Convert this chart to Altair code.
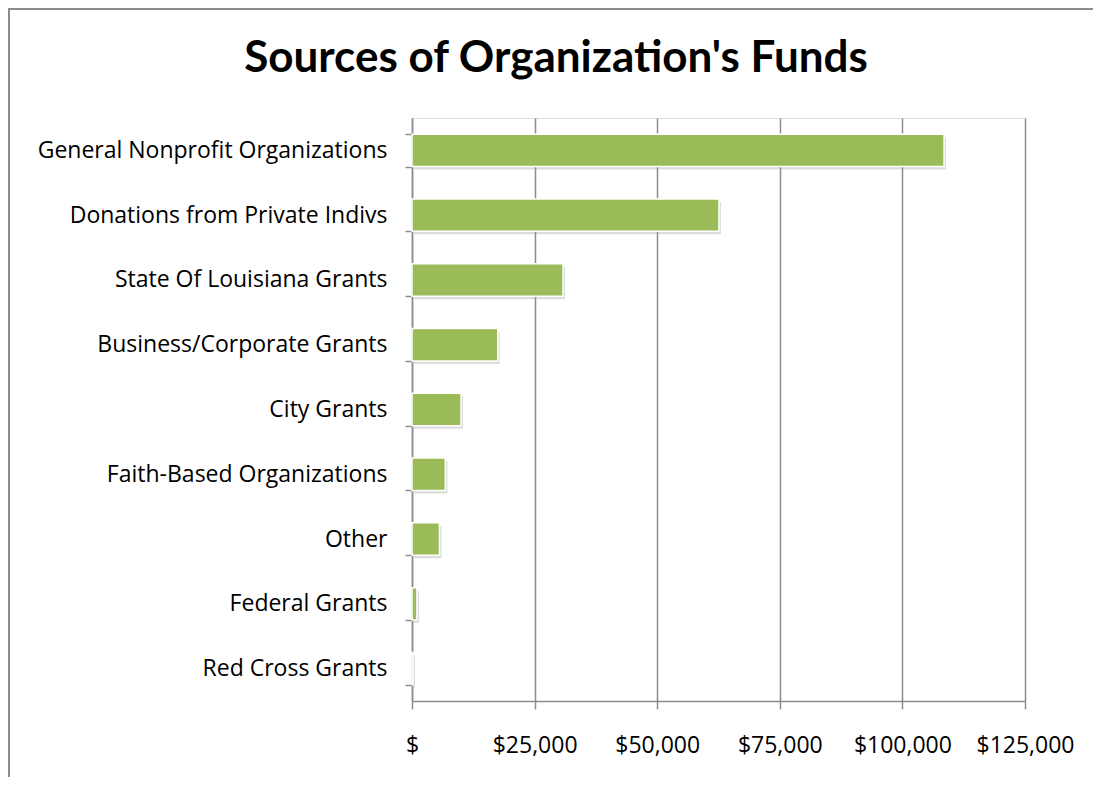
import altair as alt
import pandas as pd

categories = [
    "General Nonprofit Organizations",
    "Donations from Private Indivs",
    "State Of Louisiana Grants",
    "Business/Corporate Grants",
    "City Grants",
    "Faith-Based Organizations",
    "Other",
    "Federal Grants",
    "Red Cross Grants",
]
amounts = [108500, 62600, 30800, 17500, 10000, 6800, 5600, 1000, 200]
x_ticks = [0, 25000, 50000, 75000, 100000, 125000]
title_text = "Sources of Organization's Funds"

df = pd.DataFrame({"source": categories, "amount": amounts})

FONT = "Open Sans"
W, H = 613, 583

x_enc = alt.X(
    "amount:Q",
    scale=alt.Scale(domain=[0, 125000], nice=False),
    axis=alt.Axis(
        values=x_ticks,
        title=None,
        grid=True,
        gridColor="#8c8c8c",
        gridWidth=1.5,
        domainColor="#8c8c8c",
        domainWidth=1.5,
        tickColor="#8c8c8c",
        tickWidth=1.5,
        tickSize=8,
        labelPadding=25,
        labelFontSize=23,
        labelFont=FONT,
        labelColor="#000000",
        labelOverlap=False,
        labelFlush=False,
        labelExpr="datum.value == 0 ? '$' : '$' + format(datum.value, ',')",
    ),
)
y_enc = alt.Y(
    "source:N",
    sort=categories,
    scale=alt.Scale(paddingInner=0.5, paddingOuter=0.25),
    axis=alt.Axis(
        title=None,
        tickBand="extent",
        domainColor="#8c8c8c",
        domainWidth=1.5,
        tickColor="#8c8c8c",
        tickWidth=1.5,
        tickSize=7,
        labelPadding=18,
        labelFontSize=23,
        labelFont=FONT,
        labelColor="#000000",
        labelLimit=500,
    ),
)

shadow = alt.Chart(df).mark_bar(
    color="#9a9a9a", opacity=0.35, xOffset=2, yOffset=3
).encode(x=x_enc, y=y_enc)

bars = alt.Chart(df).mark_bar(
    color="#9bbb59", stroke="#ffffff", strokeWidth=1.5
).encode(x=x_enc, y=y_enc)

one = pd.DataFrame({"k": [0]})
frame_left = alt.Chart(one).mark_rule(color="#8c8c8c", strokeWidth=2).encode(
    x=alt.value(-403), y=alt.value(-110), y2=alt.value(H + 200),
)
frame_top = alt.Chart(one).mark_rule(color="#8c8c8c", strokeWidth=2).encode(
    y=alt.value(-109), x=alt.value(-404), x2=alt.value(W + 200),
)

title = alt.Chart(pd.DataFrame({"t": [title_text]})).mark_text(
    font="Lato", fontSize=44, fontWeight="bold", color="#000000",
    align="center", baseline="alphabetic",
).encode(
    text="t:N",
    x=alt.value(144),
    y=alt.value(-46),
)

chart = alt.layer(frame_left, frame_top, shadow, bars, title).properties(
    width=W,
    height=H,
    autosize=alt.AutoSizeParams(type="none"),
    padding={"left": 404, "top": 110, "right": 68, "bottom": 76},
).configure_view(stroke=None).configure(background="#ffffff")

chart.save("out.html", embed_options={"renderer": "svg", "actions": False})
